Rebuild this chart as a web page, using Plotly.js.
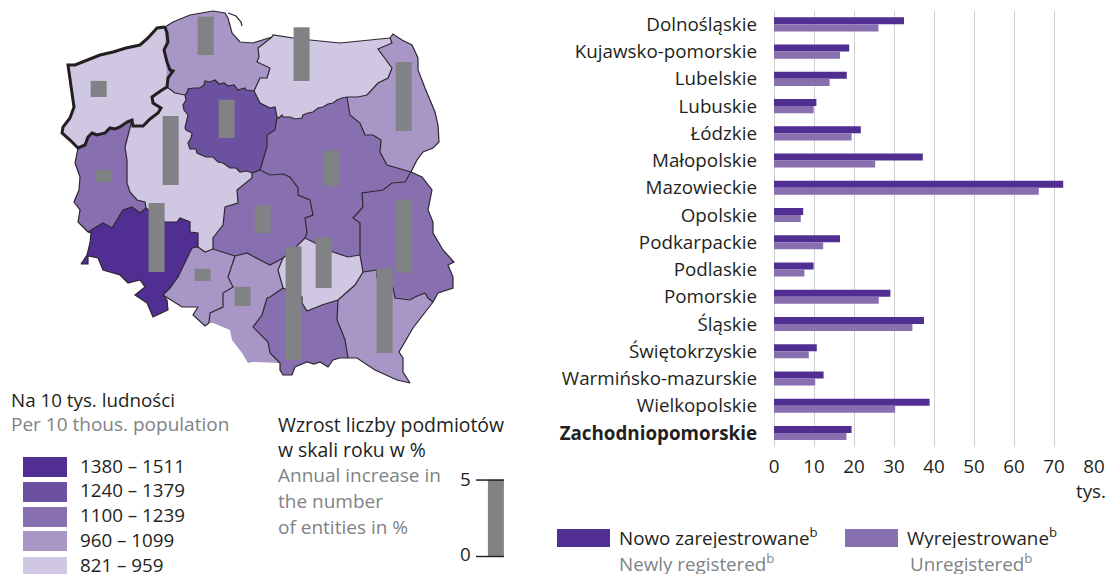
<!DOCTYPE html>
<html><head><meta charset="utf-8">
<script src="https://cdn.plot.ly/plotly-3.0.1.min.js"></script>
<style>html,body{margin:0;padding:0;background:#fff}#c{width:1106px;height:574px}</style>
</head><body><div id="c"></div>
<script>
const W=1106,H=574,FONT='"Open Sans", sans-serif',INK='#231f20',GREY='#808285';
// Bar chart data (thousands)
const regions=['Dolnośląskie','Kujawsko-pomorskie','Lubelskie','Lubuskie','Łódzkie','Małopolskie','Mazowieckie','Opolskie','Podkarpackie','Podlaskie','Pomorskie','Śląskie','Świętokrzyskie','Warmińsko-mazurskie','Wielkopolskie','Zachodniopomorskie'];
const newlyRegistered=[32.5,18.8,18.2,10.6,21.7,37.2,72.3,7.3,16.5,9.9,29.1,37.5,10.7,12.4,38.9,19.4];
const unregistered=[26.1,16.5,13.9,9.9,19.4,25.3,66.2,6.7,12.3,7.6,26.2,34.6,8.7,10.3,30.3,18.1];
const xTicks=[0,10,20,30,40,50,60,70,80];
// Map legend
const classColors=['#512e91','#6b51a0','#8870b0','#a896c6','#d0c7e2'];
const classLabels=['1380 – 1511','1240 – 1379','1100 – 1239','960 – 1099','821 – 959'];
// Annual increase (%), with the bar placement on the map
const increaseValues=[1.05,2.5,2.5,0.8,4.5,3.5,4.5,2.3,4.5,1.8,0.8,1.25,7.4,3.3,4.8,5.5];
const increaseX=[99,206,227,104,171,302,404,332,157,263,203,243,294,324,404,385];
const increaseBase=[97,55,138,182,185,81,131,186,272,233,281,306,360,288,273,353];
// Map border segments
const zCoast=[[165,27],[157,28],[148,38],[140,45],[126,48],[113,52],[100,55],[93,58],[75,65],[68,65],[71,87],[74,107],[70,118],[63,127],[62,133],[70,140],[78,148]];
const zLub=[[78,148],[85,145],[88,137],[92,133],[97,135],[105,133],[110,128],[115,129],[120,127],[127,122],[132,120]];
const zWlk=[[132,120],[133,126],[143,126],[150,119],[158,113],[161,108],[153,103],[152,97],[162,90],[167,87]];
const zPom=[[167,87],[168,78],[173,71],[170,70],[167,62],[164,50],[168,42],[167,33],[165,27]];
const pomN=[[165,27],[173,22],[190,15],[213,11],[225,13],[228,18],[232,33],[240,42],[253,43],[272,37]];
const pomW=[[272,37],[258,48],[259,57],[257,62],[270,68],[267,78],[260,78],[254,91]];
const pomK=[[254,91],[246,90],[245,88],[238,90],[234,85],[228,86],[224,83],[219,84],[215,80],[210,82],[205,81],[204,85],[200,88],[194,88],[188,89],[187,93],[185,95]];
const pomV=[[185,95],[175,93],[167,87]];
const warN=[[272,37],[273,35],[300,39],[340,43],[390,38]];
const warD=[[390,38],[392,43],[378,49],[385,58],[392,68],[388,78],[378,83],[367,95],[358,97],[347,97]];
const warM=[[347,97],[342,98],[337,100],[333,103],[328,104],[323,107],[318,108],[313,112],[308,113],[303,115],[302,118],[295,119],[290,117],[283,117],[282,115],[279,118],[277,117]];
const warK=[[277,117],[275,107],[270,108],[260,103],[254,91]];
const podE=[[390,38],[393,34],[402,40],[412,45],[418,58],[418,70],[425,88],[435,112],[438,125],[439,142],[433,148],[423,152],[417,160],[411,172]];
const podM=[[411,172],[387,165],[380,152],[381,140],[373,135],[365,135],[360,123],[350,115],[347,97]];
const kujM=[[277,117],[275,130],[267,135],[267,147],[260,170]];
const kujL=[[260,170],[252,173]];
const kujV=[[252,173],[247,171],[240,172],[236,168],[230,168],[223,163],[218,162],[213,157],[206,157],[197,153],[196,149],[190,149],[188,143],[191,138],[192,133],[186,130],[185,128],[187,120],[188,115],[184,110],[183,105],[186,100],[185,95]];
const mazL=[[260,170],[270,175],[283,174],[290,177],[298,188],[298,195],[310,200],[313,215],[305,218],[307,233],[305,238]];
const mazS=[[305,238],[315,243],[333,252],[348,257],[360,255]];
const mazU=[[360,255],[360,223],[353,218],[363,207],[362,193],[383,190],[392,183],[405,182],[411,172]];
const lodzV=[[252,173],[252,178],[237,190],[238,203],[225,207],[223,225],[213,238],[213,249]];
const lodzQ=[[213,249],[235,256]];
const lodzE=[[235,256],[247,253],[260,260],[270,265],[283,258]];
const lodzS=[[283,258],[293,250],[305,238]];
const vQ=[[213,249],[205,252],[198,247]];
const vO=[[198,247],[198,233],[190,232],[190,222],[180,218],[177,222],[165,222],[157,215],[146,208]];
const vB=[[146,208],[145,202],[137,200],[130,192],[127,183],[127,160],[125,147],[132,120]];
const bO=[[146,208],[140,213],[132,207],[123,210],[112,228],[103,223],[88,232]];
const bW=[[88,232],[78,222],[80,210],[74,202],[79,190],[80,177],[75,163],[78,148]];
const oQ=[[198,247],[192,248],[190,252],[178,277],[170,288],[163,295]];
const oS=[[163,295],[167,300],[168,310],[153,317],[147,303],[135,295],[145,287],[140,280],[128,283],[120,275],[103,270],[98,258],[88,256],[88,264],[81,264],[87,255],[90,243],[91,233],[88,232]];
const qE=[[235,256],[228,277],[233,287],[223,293],[223,307],[210,313],[209,323]];
const qS=[[209,323],[205,326],[193,315],[198,307],[182,307],[163,295]];
const eS=[[283,258],[278,270],[283,288]];
const eA=[[283,288],[270,297],[267,298],[262,315],[253,327],[268,342],[270,353],[280,363]];
const eSouth=[[280,363],[253,362],[248,363],[242,353],[232,340],[230,330],[213,323],[209,323]];
const sU=[[360,255],[363,272]];
const sK=[[363,272],[355,285],[338,300]];
const sA=[[338,300],[322,305],[307,311],[302,303],[302,297],[283,288]];
const aK=[[338,300],[337,320],[342,332],[345,340],[348,358]];
const aS=[[348,358],[340,358],[333,360],[328,367],[320,362],[314,364],[307,362],[295,367],[292,375],[283,375],[280,370],[280,363]];
const kS=[[348,358],[357,358],[375,370],[397,380],[410,383],[403,372],[403,358],[399,352],[413,328],[433,302]];
const kU=[[433,302],[428,298],[425,293],[415,297],[410,300],[395,298],[393,288],[377,278],[377,270],[363,272]];
const uE=[[411,172],[422,177],[432,190],[428,210],[433,222],[433,233],[443,250],[454,262],[448,265],[453,277],[453,288],[438,293],[433,302]];
const hel=[[228,13],[236,16],[241,22],[242,26]];
const r=s=>[...s].reverse();
// region: colour class, ring of segments
const mapRegions=[
 [4,[zCoast,zLub,zWlk,zPom]],
 [3,[pomN,pomW,pomK,pomV,r(zPom)]],
 [4,[warN,warD,warM,warK,r(pomW)]],
 [3,[podE,podM,r(warD)]],
 [1,[r(pomK),r(warK),kujM,kujL,kujV]],
 [2,[r(warM),r(podM),r(mazU),r(mazS),r(mazL),r(kujM)]],
 [2,[mazL,r(lodzS),r(lodzE),r(lodzQ),r(lodzV),r(kujL)]],
 [4,[r(pomV),r(kujV),lodzV,vQ,vO,vB,zWlk]],
 [2,[zLub,r(vB),bO,bW]],
 [0,[r(bO),r(vO),oQ,oS]],
 [3,[r(vQ),lodzQ,qE,qS,r(oQ)]],
 [3,[lodzE,eS,eA,eSouth,r(qE)]],
 [4,[mazS,sU,sK,sA,r(eS),lodzS]],
 [2,[r(eA),r(sA),aK,aS]],
 [3,[aK,kS,kU,sK]],
 [2,[mazU,uE,kU,r(sU)]]
];
const borders=[pomN,pomW,pomK,pomV,warN,warD,warM,warK,podE,podM,kujM,kujL,kujV,mazL,mazS,mazU,lodzV,lodzQ,lodzE,lodzS,vQ,vO,vB,bO,bW,oQ,oS,qE,qS,eS,eA,sU,sK,sA,aK,aS,kS,kU,uE,hel];
const px=x=>x/W, py=y=>1-y/H;
const traces=[];
traces.push({type:'bar',orientation:'h',y:regions,x:newlyRegistered,name:'Nowo zarejestrowane',marker:{color:classColors[0]},xaxis:'x',yaxis:'y',hoverinfo:'skip',showlegend:false});
traces.push({type:'bar',orientation:'h',y:regions,x:unregistered,name:'Wyrejestrowane',marker:{color:classColors[2]},xaxis:'x',yaxis:'y',hoverinfo:'skip',showlegend:false});
mapRegions.forEach(([c,segs])=>{
  const pts=segs.flat();
  traces.push({type:'scatter',mode:'lines',x:pts.map(p=>p[0]),y:pts.map(p=>p[1]),fill:'toself',fillcolor:classColors[c],line:{width:0,color:classColors[c]},xaxis:'x2',yaxis:'y2',hoverinfo:'skip',showlegend:false});
});
const bx=[],by=[];borders.forEach(s=>{s.forEach(p=>{bx.push(p[0]);by.push(p[1]);});bx.push(null);by.push(null);});
traces.push({type:'scatter',mode:'lines',x:bx,y:by,line:{width:1.2,color:'#2b2730'},connectgaps:false,xaxis:'x2',yaxis:'y2',hoverinfo:'skip',showlegend:false});
const zr=[zCoast,zLub,zWlk,zPom].flat();
traces.push({type:'scatter',mode:'lines',x:zr.map(p=>p[0]),y:zr.map(p=>p[1]),line:{width:3,color:'#231f20'},xaxis:'x2',yaxis:'y2',hoverinfo:'skip',showlegend:false});
const SCALE=15.33;
traces.push({type:'bar',x:increaseX,y:increaseValues.map(v=>-v*SCALE),base:increaseBase,width:16,marker:{color:GREY},textposition:'none',xaxis:'x3',yaxis:'y3',hoverinfo:'skip',showlegend:false});
traces.push({type:'bar',x:[495.5],y:[-5*SCALE],base:[556.5],width:16,marker:{color:GREY},textposition:'none',xaxis:'x3',yaxis:'y3',hoverinfo:'skip',showlegend:false});
const FS=18.8;
const ann=(x,y,t,o={})=>({xref:'paper',yref:'paper',x:px(x),y:py(y),text:t,showarrow:false,xanchor:o.a||'left',yanchor:'middle',align:o.a||'left',borderpad:0,borderwidth:0,height:o.h||undefined,font:{family:FONT,size:o.s||FS,color:o.c||INK}});
const annotations=[
 ann(11,400,'Na 10 tys. ludności'),ann(11,424,'Per 10 thous. population',{c:GREY,s:19}),
 ann(278,424,'Wzrost liczby podmiotów',{s:19.4}),ann(278,449,'w skali roku w %',{s:19.4}),
 ann(278,475,'Annual increase in',{c:GREY,s:19}),ann(278,501,'the number',{c:GREY,s:19}),ann(278,527,'of entities in %',{c:GREY,s:19}),
 ann(471,479,'5',{a:'right'}),ann(471,554,'0',{a:'right'}),
 ann(619,537,'Nowo zarejestrowane<sup>b</sup>',{h:22}),ann(907,537,'Wyrejestrowane<sup>b</sup>',{h:22}),
 ann(619,563,'Newly registered<sup>b</sup>',{c:GREY,h:22}),ann(910,563,'Unregistered<sup>b</sup>',{c:GREY,h:22}),
 ann(1106,491,'tys.',{a:'right'})
];
classLabels.forEach((l,i)=>annotations.push(ann(80,[466,490,515,540,565][i],l,{h:18})));
const rect=(x0,y0,x1,y1,c)=>({type:'rect',xref:'paper',yref:'paper',x0:px(x0),x1:px(x1),y0:py(y0),y1:py(y1),fillcolor:c,line:{width:0}});
const shapes=[];
[[457,477],[482,502],[507,527],[531,551],[557,574]].forEach((s,i)=>shapes.push(rect(23,s[0],67,s[1],classColors[i])));
shapes.push(rect(557,529,610,547,classColors[0]),rect(845,529,898,547,classColors[2]));
shapes.push(rect(476,479.3,504,480.8,INK),rect(476,555.8,504,557.2,INK));
const layout={width:W,height:H,margin:{l:0,r:0,t:0,b:0},paper_bgcolor:'#fff',plot_bgcolor:'rgba(0,0,0,0)',showlegend:false,barmode:'group',bargap:0.48,bargroupgap:0,
 font:{family:FONT,size:FS,color:INK},
 xaxis:{domain:[px(774),px(1094)],range:[0,80],tickvals:xTicks,ticktext:xTicks.map(String),showgrid:true,gridcolor:'#cfcfd1',gridwidth:1,zeroline:true,zerolinecolor:'#cfcfd1',ticks:'',ticklabelstandoff:7,anchor:'y',showline:false,tickfont:{family:FONT,size:FS,color:INK},fixedrange:true},
 yaxis:{domain:[py(446.6),py(10.7)],type:'category',categoryorder:'array',categoryarray:regions,autorange:'reversed',tickvals:regions,ticktext:regions.map(n=>n==='Zachodniopomorskie'?'<b>'+n+'</b>':n),ticks:'',ticklabelstandoff:16,showgrid:false,zeroline:false,showline:false,anchor:'x',tickfont:{family:FONT,size:FS,color:INK},fixedrange:true},
 xaxis2:{domain:[0,530/W],range:[0,530],visible:false,anchor:'y2',fixedrange:true},
 yaxis2:{domain:[0,1],range:[574,0],visible:false,anchor:'x2',fixedrange:true},
 xaxis3:{domain:[0,530/W],range:[0,530],visible:false,anchor:'y3',overlaying:'x2',fixedrange:true},
 yaxis3:{domain:[0,1],range:[574,0],visible:false,anchor:'x3',overlaying:'y2',fixedrange:true},
 annotations,shapes};
Plotly.newPlot('c',traces,layout,{displayModeBar:false,staticPlot:true});
</script></body></html>
